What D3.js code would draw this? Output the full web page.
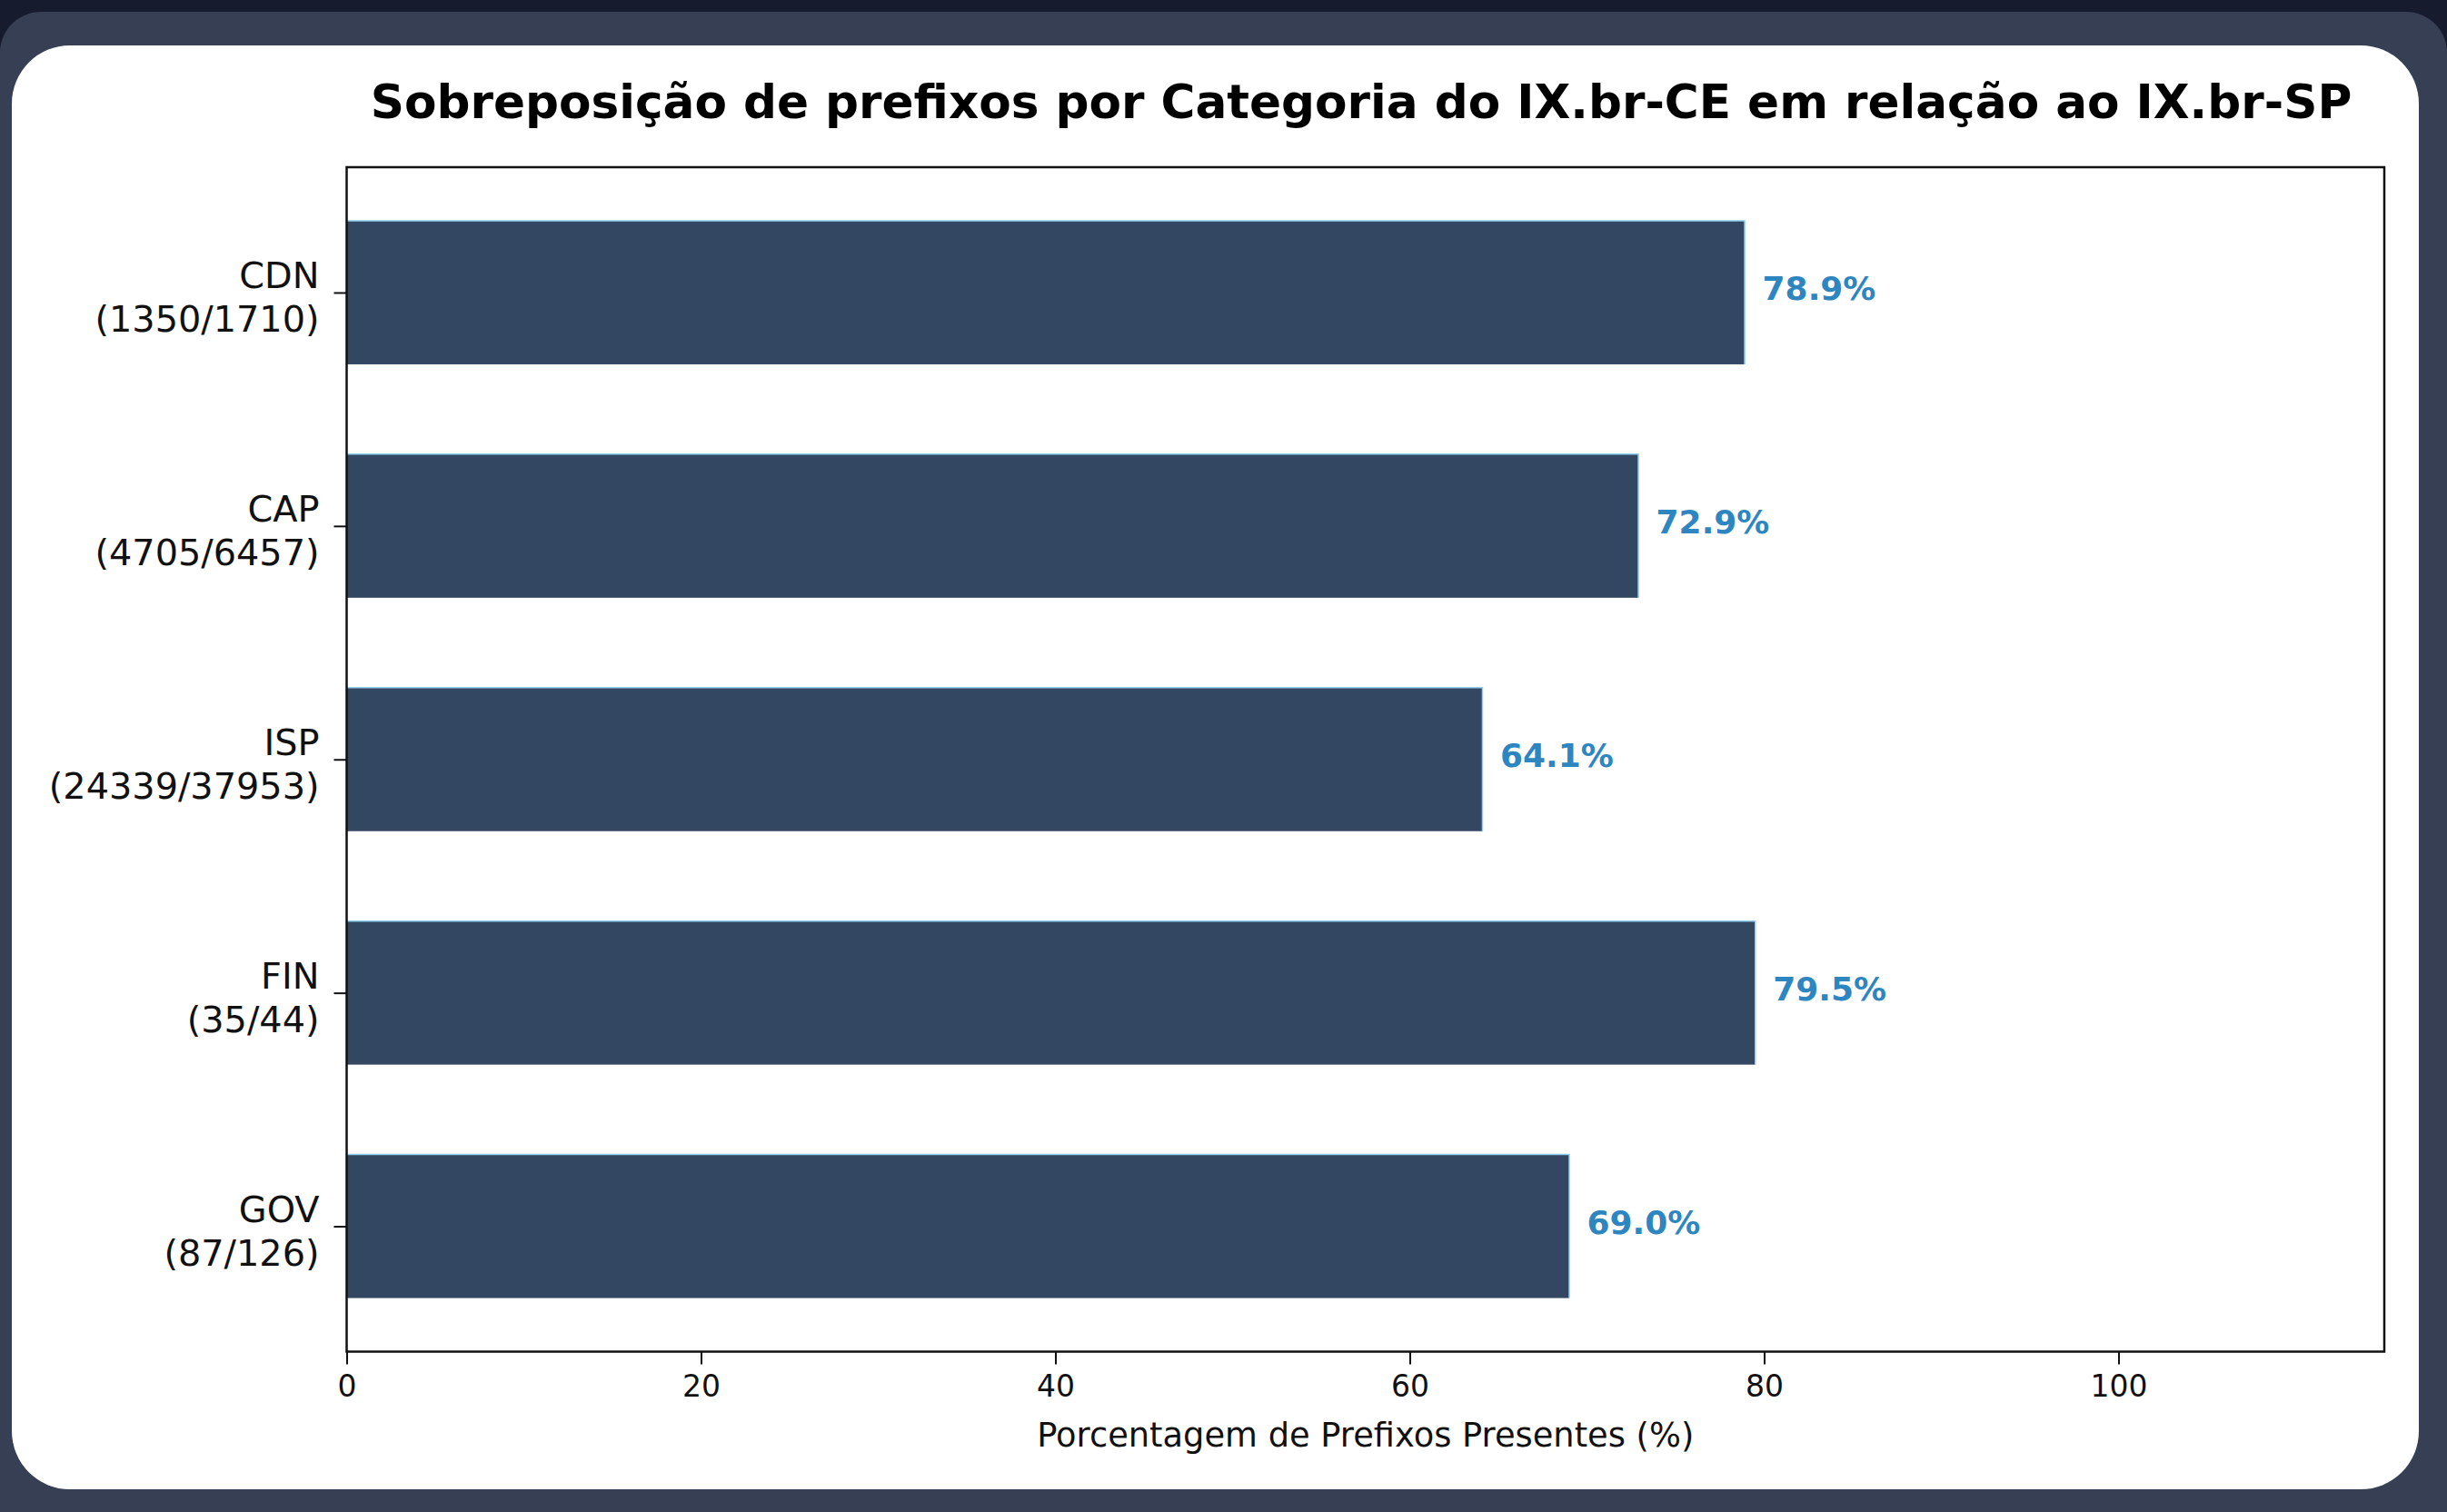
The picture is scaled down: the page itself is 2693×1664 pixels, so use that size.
<html>
  <head>
    <script src='https://d3js.org/d3.v7.min.js'></script>
    <style>
      body { margin: 0; background: #161b2e; }
      svg { display: block; }
    </style>
  </head>
  <body>
    <svg width=2693 height=1664></svg>
    <script>
      // categorias e contagens (presentes / total)
      const CATEGORIES = ['CDN', 'CAP', 'ISP', 'FIN', 'GOV'];
      const PRESENT = [1350, 4705, 24339, 35, 87];
      const TOTAL = [1710, 6457, 37953, 44, 126];
      const PERCENT = [78.9, 72.9, 64.1, 79.5, 69.0];
      const X_TICKS = [0, 20, 40, 60, 80, 100];

      const TITLE = 'Sobreposição de prefixos por Categoria do IX.br-CE em relação ao IX.br-SP';
      const X_LABEL = 'Porcentagem de Prefixos Presentes (%)';

      const W = 2693, H = 1664;
      const plot = {left: 381.5, right: 2624, top: 184, bottom: 1487.5};

      const svg = d3.select('svg');

      // fundo escuro + painel + cartao branco
      svg.append('rect').attr('width', W).attr('height', H).attr('fill', '#161b2e');
      svg.append('rect').attr('x', 0).attr('y', 13).attr('width', W).attr('height', H + 60)
        .attr('rx', 45).attr('fill', '#373f55');
      svg.append('rect').attr('x', 13).attr('y', 50).attr('width', 2649).attr('height', 1589)
        .attr('rx', 64).attr('fill', '#ffffff');

      const x = d3.scaleLinear().domain([0, 115]).range([plot.left, plot.right]);
      const y = d3.scaleLinear().domain([-0.537, 4.537]).range([plot.top, plot.bottom]);
      const barH = y(0.615) - y(0);

      const data = CATEGORIES.map((c, i) => ({cat: c, i: i, pct: PERCENT[i], n: PRESENT[i], tot: TOTAL[i]}));

      // barras
      svg.append('g').selectAll('rect').data(data).enter().append('rect')
        .attr('x', x(0))
        .attr('y', d => y(d.i) - barH / 2)
        .attr('width', d => x(d.pct) - x(0))
        .attr('height', barH)
        .attr('fill', '#334762');

      // borda clara fina no topo/direita das barras
      svg.append('g').selectAll('path').data(data).enter().append('path')
        .attr('d', d => `M${x(0)},${y(d.i) - barH / 2}H${x(d.pct)}V${y(d.i) + barH / 2}`)
        .attr('fill', 'none').attr('stroke', '#8fd0ee').attr('stroke-width', 1.5);

      // rotulos de valor
      svg.append('g').selectAll('text').data(data).enter().append('text')
        .attr('x', d => x(d.pct + 1))
        .attr('y', d => y(d.i) + 8)
        .attr('font-family', 'DejaVu Sans')
        .attr('font-weight', 'bold')
        .attr('font-size', 36)
        .attr('fill', '#2e86c1')
        .text(d => d.pct.toFixed(1) + '%');

      // eixo x
      const xAxis = svg.append('g')
        .attr('transform', `translate(0,${plot.bottom})`)
        .call(d3.axisBottom(x).tickValues(X_TICKS).tickSize(14).tickPadding(12).tickSizeOuter(0));
      xAxis.select('.domain').remove();
      xAxis.selectAll('line').attr('stroke', '#111').attr('stroke-width', 2);
      xAxis.selectAll('text').attr('font-family', 'DejaVu Sans').attr('font-size', 33).attr('fill', '#111');

      // eixo y
      const yAxis = svg.append('g')
        .attr('transform', `translate(${plot.left},0)`)
        .call(d3.axisLeft(y).tickValues(d3.range(CATEGORIES.length)).tickSize(14).tickFormat('').tickSizeOuter(0));
      yAxis.select('.domain').remove();
      yAxis.selectAll('line').attr('stroke', '#111').attr('stroke-width', 2);

      const yLabels = svg.append('g').selectAll('text').data(data).enter().append('text')
        .attr('text-anchor', 'end')
        .attr('font-family', 'DejaVu Sans')
        .attr('font-size', 39.8)
        .attr('fill', '#111');
      yLabels.append('tspan').attr('x', plot.left - 30).attr('y', d => y(d.i) - 5).text(d => d.cat);
      yLabels.append('tspan').attr('x', plot.left - 30).attr('y', d => y(d.i) + 43).text(d => `(${d.n}/${d.tot})`);

      // moldura
      svg.append('rect')
        .attr('x', plot.left).attr('y', plot.top)
        .attr('width', plot.right - plot.left).attr('height', plot.bottom - plot.top)
        .attr('fill', 'none').attr('stroke', '#111').attr('stroke-width', 2.5);

      // titulo e rotulo do eixo
      svg.append('text')
        .attr('x', 1498).attr('y', 130)
        .attr('text-anchor', 'middle')
        .attr('font-family', 'DejaVu Sans').attr('font-weight', 'bold').attr('font-size', 51.7)
        .attr('fill', '#000')
        .text(TITLE);

      svg.append('text')
        .attr('x', (plot.left + plot.right) / 2).attr('y', 1592)
        .attr('text-anchor', 'middle')
        .attr('font-family', 'DejaVu Sans').attr('font-size', 36.8)
        .attr('fill', '#111')
        .text(X_LABEL);
    </script>
  </body>
</html>
